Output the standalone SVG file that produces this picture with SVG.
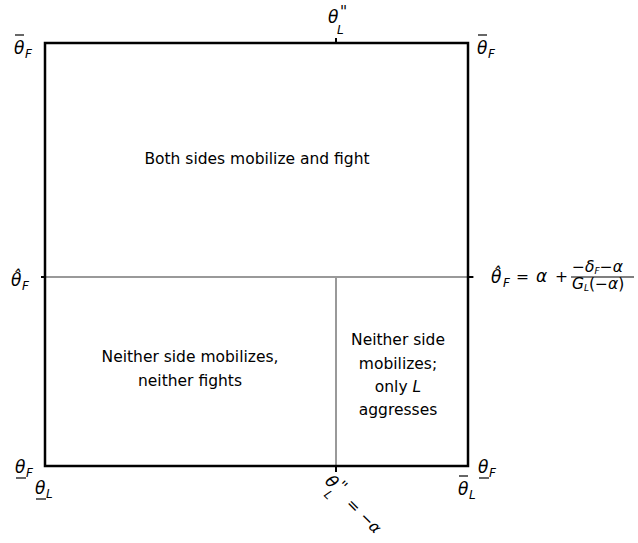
<svg xmlns="http://www.w3.org/2000/svg" width="638" height="543" viewBox="0 0 638 543">
<style>
text{font-family:"DejaVu Sans","Liberation Sans",sans-serif;font-size:15.5px;fill:#000}
.c{text-anchor:middle}
.m{font-style:italic;font-size:17px}
.s{font-style:italic;font-size:12px}
.p{font-style:italic;font-size:15px;letter-spacing:-1px}
.bar{stroke:#000;stroke-width:1.2}
.box{fill:none;stroke:#000;stroke-width:2.5}
.g{stroke:#999;stroke-width:2;fill:none}
.t{stroke:#000;stroke-width:2}
</style>
<rect width="638" height="543" fill="#fff"/>
<g id="connectors">
<line class="g" x1="41" y1="277" x2="474" y2="277"/>
<line class="g" x1="336" y1="277" x2="336" y2="466"/>
<rect class="box" x="45" y="43" width="423" height="423"/>
<line class="t" x1="336" y1="38" x2="336" y2="43"/>
<line class="t" x1="41" y1="277" x2="45" y2="277"/>
<line class="t" x1="468" y1="277" x2="473" y2="277"/>
<line class="t" x1="336" y1="466" x2="336" y2="472"/>
</g>
<g id="region-top"><text class="c" x="257" y="164">Both sides mobilize and fight</text></g>
<g id="region-bottom-left"><text class="c" x="190" y="362">Neither side mobilizes,</text><text class="c" x="190" y="386">neither fights</text></g>
<g id="region-bottom-right">
<text class="c" x="398" y="345">Neither side</text>
<text class="c" x="398" y="369">mobilizes;</text>
<text class="c" x="398" y="392">only <tspan font-style="italic">L</tspan></text>
<text class="c" x="398" y="415">aggresses</text>
</g>
<g id="label-topleft"><text class="m" x="14" y="54">θ</text><text class="s" x="25" y="58">F</text><line class="bar" x1="15" y1="35" x2="24" y2="35"/></g>
<g id="label-topright"><text class="m" x="477" y="54">θ</text><text class="s" x="488" y="58">F</text><line class="bar" x1="478" y1="35" x2="487" y2="35"/></g>
<g id="label-topcenter"><text class="m" x="328" y="23">θ</text><text class="p" x="340" y="17">''</text><text class="s" x="337" y="34">L</text></g>
<g id="label-left-hat"><text class="m" x="11" y="286">θ̂</text><text class="s" x="22" y="290">F</text></g>
<g id="label-right-eq">
<text class="m" x="491" y="283">θ̂</text><text class="s" x="503" y="287">F</text>
<text x="516" y="282" font-size="17">=</text>
<text class="m" x="536" y="282">α</text>
<text x="555" y="282" font-size="17">+</text>
<text x="572" y="272" font-size="11">−<tspan font-style="italic">δ</tspan><tspan font-style="italic" font-size="9" dy="2">F</tspan><tspan dy="-2">−</tspan><tspan font-style="italic">α</tspan></text>
<line class="bar" x1="571" y1="277" x2="634" y2="277" stroke-width="0.8"/>
<text x="572" y="289" font-size="11"><tspan font-style="italic">G</tspan><tspan font-style="italic" font-size="9" dy="2">L</tspan><tspan dy="-2">(−</tspan><tspan font-style="italic">α</tspan>)</text>
</g>
<g id="label-bottomleft">
<text class="m" x="15" y="473">θ</text><text class="s" x="26" y="477">F</text><line class="bar" x1="16" y1="478" x2="26" y2="478"/>
<text class="m" x="35" y="494">θ</text><text class="s" x="46" y="498">L</text><line class="bar" x1="36" y1="499" x2="46" y2="499"/>
</g>
<g id="label-bottomright">
<text class="m" x="478" y="473">θ</text><text class="s" x="489" y="477">F</text><line class="bar" x1="479" y1="478" x2="489" y2="478"/>
<text class="m" x="458" y="495">θ</text><text class="s" x="469" y="499">L</text><line class="bar" x1="459" y1="476" x2="468" y2="476"/>
</g>
<g id="label-bottomcenter" transform="translate(324,482) rotate(45)">
<text class="m" x="0" y="0">θ</text><text class="p" x="12" y="-5">''</text><text class="s" x="9" y="10">L</text>
<text x="31" y="1" font-size="17">=</text>
<text x="50" y="1" font-size="17">−<tspan font-style="italic">α</tspan></text>
</g>
</svg>
